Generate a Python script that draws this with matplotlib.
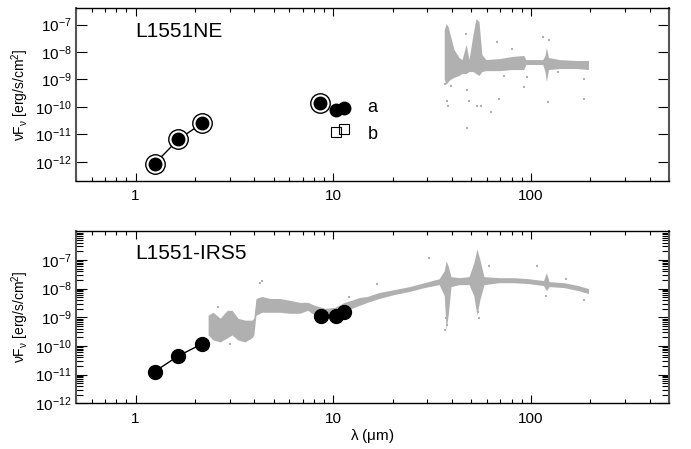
import numpy as np
import matplotlib
matplotlib.use('Agg')
import matplotlib.pyplot as plt
from matplotlib.ticker import LogLocator, FixedLocator, NullLocator, NullFormatter

plt.rcParams['font.family'] = ['Liberation Sans', 'DejaVu Sans']
plt.rcParams['mathtext.fontset'] = 'custom'
plt.rcParams['mathtext.rm'] = 'Liberation Sans'
plt.rcParams['mathtext.it'] = 'Liberation Sans:italic'
plt.rcParams['mathtext.default'] = 'regular'

GRAY = '#b0b0b0'

# ---- L1551NE ----
ne_jhk_lam = [1.25, 1.65, 2.17]
ne_jhk_flux = [8.5e-13, 6.6e-12, 2.5e-11]
ne_mir_lam = [8.6]
ne_mir_flux = [1.4e-10]
ne_a_lam = [10.4, 11.3]
ne_a_flux = [7.8e-11, 9.0e-11]
ne_b_lam = [10.4, 11.3]
ne_b_flux = [1.25e-11, 1.6e-11]

# far-IR spectrum envelope
ne_spec_lam = [36.5, 37.3, 38.2, 39.1, 40.9, 43.4, 44.9, 47.1, 48.7, 51.0, 52.8,
               54.7, 56.6, 59.3, 69.8, 80.2, 92.2, 94.4, 115, 118, 120, 123,
               140, 171, 196]
ne_spec_hi = [6.6e-8, 1.09e-7, 8.5e-8, 4.3e-8, 1.23e-8, 6.3e-9, 5.3e-9, 1.9e-8,
              5.3e-9, 4.3e-8, 1.65e-7, 1.29e-7, 8.1e-9, 5.3e-9, 5.8e-9, 6.9e-9,
              7.5e-9, 5.3e-9, 5.3e-9, 7.5e-9, 1.46e-8, 6.3e-9, 5.3e-9, 4.9e-9,
              4.9e-9]
ne_spec_lo = [1.0e-9, 6.6e-10, 8.5e-10, 1.0e-9, 1.2e-9, 1.4e-9, 1.65e-9, 1.65e-9,
              1.95e-9, 1.95e-9, 1.65e-9, 1.4e-9, 1.95e-9, 2.1e-9, 2.1e-9, 2.3e-9,
              2.3e-9, 3.5e-9, 3.5e-9, 1.95e-9, 8.5e-10, 2.3e-9, 2.5e-9, 2.5e-9,
              2.3e-9]
ne_dots_lam = [47.1, 67.4, 80.2, 116, 123, 37.7, 38.2, 47.6, 48.7, 53.4, 56.0,
               62.9, 47.6, 69.0, 92.2, 122, 187, 185, 36.9, 39.5, 73.1, 95.5, 138]
ne_dots_flux = [4.7e-8, 2.4e-8, 1.34e-8, 3.4e-8, 2.85e-8, 1.6e-10, 1.04e-10,
                4.3e-10, 1.6e-10, 1.04e-10, 1.04e-10, 6.3e-11, 1.65e-11, 1.9e-10,
                5.1e-10, 1.46e-10, 1.9e-10, 1.0e-9, 6.6e-10, 5.6e-10, 1.29e-9,
                1.2e-9, 1.8e-9]

# ---- L1551-IRS5 ----
irs_jhk_lam = [1.25, 1.65, 2.17]
irs_jhk_flux = [1.27e-11, 4.5e-11, 1.17e-10]
irs_mir_lam = [8.65, 10.4, 11.3]
irs_mir_flux = [1.08e-9, 1.08e-9, 1.5e-9]

irs_spec_lam = [2.33, 2.47, 2.68, 2.91, 3.08, 3.30, 3.58, 3.88, 3.97, 4.07, 4.36,
                4.78, 5.37, 6.03, 6.78, 7.44, 8.08, 9.07, 10.2, 11.4, 12.4, 13.6,
                14.9, 17.1, 20.4, 24.3, 28.9, 34.4, 36.5, 37.3, 38.2, 39.5, 43.4,
                48.7, 51.5, 53.4, 55.2, 58.0, 69.0, 82.0, 97.6, 116, 120, 124,
                147, 174, 196]
irs_spec_hi = [1.17e-9, 1.49e-9, 9.2e-10, 1.74e-9, 1.74e-9, 9.2e-10, 7.9e-10,
               7.9e-10, 9.2e-10, 4.5e-9, 5.3e-9, 4.5e-9, 4.5e-9, 3.9e-9, 3.3e-9,
               3.3e-9, 2.6e-9, 2.04e-9, 2.2e-9, 3.3e-9, 3.9e-9, 4.9e-9, 5.3e-9,
               7.3e-9, 9.2e-9, 1.17e-8, 1.6e-8, 2.2e-8, 4.2e-8, 9.2e-8, 6.2e-8,
               2.6e-8, 2.4e-8, 2.6e-8, 7.9e-8, 2.4e-7, 1.08e-7, 2.6e-8, 2.4e-8,
               2.4e-8, 2.2e-8, 1.9e-8, 3.6e-8, 1.74e-8, 1.6e-8, 1.27e-8, 1.0e-8]
irs_spec_lo = [2.4e-10, 1.6e-10, 1.37e-10, 1.9e-10, 2.4e-10, 1.6e-10, 1.37e-10,
               1.9e-10, 2.4e-10, 1.17e-9, 1.49e-9, 1.49e-9, 1.49e-9, 1.37e-9,
               1.37e-9, 1.74e-9, 1.17e-9, 9.2e-10, 1.0e-9, 1.49e-9, 2.04e-9,
               2.6e-9, 3.3e-9, 4.5e-9, 6.2e-9, 7.9e-9, 1.08e-8, 1.37e-8, 5.7e-9,
               3.6e-10, 1.17e-9, 1.17e-8, 1.37e-8, 1.37e-8, 5.7e-9, 1.17e-9,
               3.9e-9, 1.37e-8, 1.6e-8, 1.6e-8, 1.49e-8, 1.27e-8, 8.5e-9, 1.17e-8,
               1.08e-8, 8.5e-9, 6.7e-9]
irs_dots_lam = [36.9, 37.7, 37.3, 54.7, 54.0, 120, 30.6, 16.6, 61.5, 107, 4.26,
                4.36, 3.0, 2.6, 12.0, 150, 185]
irs_dots_flux = [3.6e-10, 5.3e-10, 9.2e-10, 9.2e-10, 1.49e-9, 5.7e-9, 1.17e-7,
                 1.49e-8, 6.2e-8, 6.2e-8, 1.6e-8, 1.9e-8, 1.2e-10, 2.2e-9, 5.0e-9,
                 2.2e-8, 4.0e-9]

ytick_vals = [1e-7, 1e-8, 1e-9, 1e-10, 1e-11, 1e-12]
ytick_labs = ['$10^{-7}$', '$10^{-8}$', '$10^{-9}$', '$10^{-10}$',
              '$10^{-11}$', '$10^{-12}$']
xtick_vals = [1, 10, 100]
xtick_labs = ['1', '10', '100']

fig = plt.figure(figsize=(6.91, 4.49), dpi=100)
ax1 = fig.add_axes([0.110, 0.597, 0.858, 0.385])
ax2 = fig.add_axes([0.110, 0.102, 0.858, 0.383])


def style(ax, ylim, yminor):
    ax.set_xscale('log')
    ax.set_yscale('log')
    ax.set_xlim(0.5, 500)
    ax.set_ylim(*ylim)
    ax.xaxis.set_major_locator(FixedLocator(xtick_vals))
    ax.set_xticklabels(xtick_labs)
    ax.xaxis.set_minor_locator(LogLocator(base=10, subs=np.arange(2, 10)))
    ax.xaxis.set_minor_formatter(NullFormatter())
    ax.yaxis.set_major_locator(FixedLocator(ytick_vals))
    ax.set_yticklabels(ytick_labs)
    if yminor:
        ax.yaxis.set_minor_locator(LogLocator(base=10, subs=np.arange(2, 10), numticks=20))
    else:
        ax.yaxis.set_minor_locator(NullLocator())
    ax.yaxis.set_minor_formatter(NullFormatter())
    ax.tick_params(which='both', direction='in', top=True, right=True,
                   labelsize=11, width=0.8, color='k')
    ax.tick_params(axis='x', which='major', length=6, pad=6)
    ax.tick_params(axis='x', which='minor', length=3)
    ax.tick_params(axis='y', which='major', length=8, pad=3)
    ax.tick_params(axis='y', which='minor', length=5)
    for s in ax.spines.values():
        s.set_linewidth(1.0)
    ax.spines['left'].set_linewidth(1.5)
    ax.spines['right'].set_linewidth(1.5)
    ax.spines['left'].set_color('#555555')
    ax.spines['right'].set_color('#555555')
    ax.set_ylabel(r'$\nu$F$_{\nu}$ [erg/s/cm$^2$]', fontsize=10, labelpad=3)


# top panel
style(ax1, (2e-13, 4e-7), False)
ax1.fill_between(ne_spec_lam, ne_spec_lo, ne_spec_hi, color=GRAY, lw=0)
ax1.plot(ne_dots_lam, ne_dots_flux, 's', ms=1.6, color=GRAY, mew=0)
ax1.plot(ne_jhk_lam, ne_jhk_flux, '-', color='k', lw=1)
ax1.plot(ne_jhk_lam + ne_mir_lam, ne_jhk_flux + ne_mir_flux, 'o', ms=14,
         mfc='white', mec='k', mew=1, ls='none')
ax1.plot(ne_jhk_lam + ne_mir_lam, ne_jhk_flux + ne_mir_flux, 'o', ms=9,
         color='k', ls='none')
ax1.plot(ne_a_lam, ne_a_flux, 'o', ms=9, color='k', ls='none')
ax1.plot(ne_b_lam, ne_b_flux, 's', ms=7, mfc='none', mec='k', mew=0.8, ls='none')
ax1.text(14.9, 6.6e-11, 'a', fontsize=13, va='baseline', ha='left')
ax1.text(14.9, 6.6e-12, 'b', fontsize=13, va='baseline', ha='left')
ax1.text(0.10, 0.867, 'L1551NE', transform=ax1.transAxes, fontsize=15,
         ha='left', va='center')

# bottom panel
style(ax2, (1e-12, 1e-6), True)
ax2.fill_between(irs_spec_lam, irs_spec_lo, irs_spec_hi, color=GRAY, lw=0)
ax2.plot(irs_dots_lam, irs_dots_flux, 's', ms=1.6, color=GRAY, mew=0)
ax2.plot(irs_jhk_lam, irs_jhk_flux, '-o', color='k', lw=1, ms=10)
ax2.plot(irs_mir_lam, irs_mir_flux, '-o', color='k', lw=1, ms=10)
ax2.text(0.10, 0.872, 'L1551-IRS5', transform=ax2.transAxes, fontsize=15,
         ha='left', va='center')
ax2.set_xlabel(r'$\lambda$ ($\mu$m)', fontsize=11, labelpad=1)

plt.savefig('out.png', dpi=100)
